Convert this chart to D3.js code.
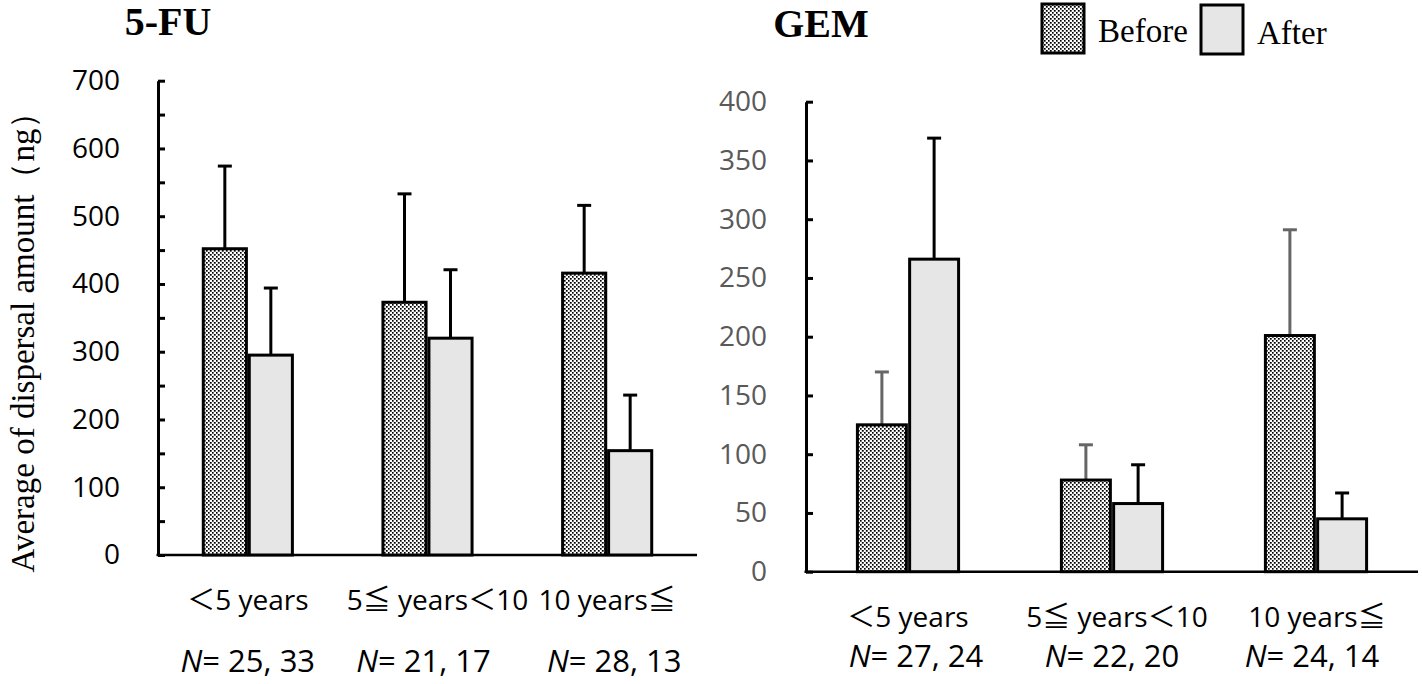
<!DOCTYPE html>
<html>
<head>
<meta charset="utf-8">
<script src="https://cdn.jsdelivr.net/npm/d3@7"></script>
<style>
  html, body { margin: 0; padding: 0; background: #fff; }
  svg { display: block; }
</style>
</head>
<body>
<svg id="chart" width="1422" height="684"></svg>
<script>
// ---------------- DATA ----------------
const categories = ["＜5 years", "5≦ years＜10", "10 years≦"];
const seriesNames = ["Before", "After"];

const fuTitle = "5-FU";
const fuBefore = [452, 373, 416];
const fuBeforeErr = [574, 533, 516];   // top of error bar
const fuAfter = [295, 320, 154];
const fuAfterErr = [394, 421, 236];
const fuN = ["25, 33", "21, 17", "28, 13"];
const fuTicks = [0, 50, 100, 150, 200, 250, 300, 350, 400, 450, 500, 550, 600, 650, 700];

const gemTitle = "GEM";
const gemBefore = [125, 78, 201];
const gemBeforeErr = [170, 108, 291];
const gemAfter = [266, 58, 45];
const gemAfterErr = [369, 91, 67];
const gemN = ["27, 24", "22, 20", "24, 14"];
const gemTicks = [0, 50, 100, 150, 200, 250, 300, 350, 400];

const yLabel = "Average of dispersal amount（ng）";

// ---------------- DRAW ----------------
const svg = d3.select("#chart");
const defs = svg.append("defs");
const pat = defs.append("pattern").attr("id", "checker")
  .attr("patternUnits", "userSpaceOnUse").attr("width", 4).attr("height", 4);
pat.append("rect").attr("width", 4).attr("height", 4).attr("fill", "#ffffff");
pat.append("rect").attr("x", 0).attr("y", 0).attr("width", 1.7).attr("height", 1.7).attr("fill", "#000");
pat.append("rect").attr("x", 2).attr("y", 2).attr("width", 1.7).attr("height", 1.7).attr("fill", "#000");
pat.append("rect").attr("x", 1.7).attr("y", 0).attr("width", 0.3).attr("height", 4).attr("fill", "#999");

const sansFont = "'Open Sans', 'Noto Sans CJK JP', sans-serif";
const serifFont = "'Liberation Serif', 'DejaVu Serif', serif";

function panel(cfg) {
  const g = svg.append("g");
  const y = d3.scaleLinear().domain(cfg.domain).range(cfg.yRange);
  const x = d3.scaleBand().domain(categories).range(cfg.xRange);
  const bw = x.bandwidth() * 0.24;
  const gap = x.bandwidth() * 0.016;
  const sub = d3.scaleOrdinal().domain(seriesNames).range([-(bw + gap / 2), gap / 2]);

  // y axis
  const axis = d3.axisLeft(y).tickValues(cfg.ticks).tickSize(-7).tickSizeOuter(0)
    .tickPadding(cfg.tickPadding)
    .tickFormat(d => (d % cfg.labelEvery === 0 ? d : ""));
  const ag = g.append("g").attr("transform", `translate(${cfg.xRange[0]},0)`).call(axis);
  ag.select(".domain").attr("stroke", "#000").attr("stroke-width", 3);
  ag.selectAll(".tick line").attr("stroke", "#000").attr("stroke-width", 3);
  ag.selectAll(".tick text").attr("font-family", sansFont).attr("font-size", cfg.tickFont)
    .attr("fill", cfg.tickColor);

  // x axis baseline
  g.append("line").attr("x1", cfg.xRange[0] - 1.5).attr("x2", cfg.xRange[1])
    .attr("y1", y(0)).attr("y2", y(0)).attr("stroke", "#000").attr("stroke-width", 2.5);

  const series = [
    { name: "Before", vals: cfg.before, err: cfg.beforeErr, fill: "url(#checker)", errColor: cfg.beforeErrColor },
    { name: "After", vals: cfg.after, err: cfg.afterErr, fill: "#e6e6e6", errColor: cfg.afterErrColor }
  ];

  series.forEach(s => {
    const cx = (c) => x(c) + x.bandwidth() / 2 + sub(s.name);
    // error bars
    g.selectAll(null).data(categories).enter().append("line")
      .attr("x1", (c) => cx(c) + bw / 2).attr("x2", (c) => cx(c) + bw / 2)
      .attr("y1", (c, i) => y(s.vals[i])).attr("y2", (c, i) => y(s.err[i]))
      .attr("stroke", s.errColor).attr("stroke-width", 3);
    g.selectAll(null).data(categories).enter().append("line")
      .attr("x1", (c) => cx(c) + bw / 2 - 7).attr("x2", (c) => cx(c) + bw / 2 + 7)
      .attr("y1", (c, i) => y(s.err[i])).attr("y2", (c, i) => y(s.err[i]))
      .attr("stroke", s.errColor).attr("stroke-width", 3);
    // bars
    g.selectAll(null).data(categories).enter().append("rect")
      .attr("x", (c) => cx(c)).attr("width", bw)
      .attr("y", (c, i) => y(s.vals[i])).attr("height", (c, i) => y(0) - y(s.vals[i]))
      .attr("fill", s.fill).attr("stroke", "#000").attr("stroke-width", 3);
  });

  // category labels
  g.selectAll(null).data(categories).enter().append("text")
    .attr("x", (c, i) => x(c) + x.bandwidth() / 2 + cfg.catDx[i])
    .attr("y", cfg.catY).attr("text-anchor", "middle")
    .attr("font-family", sansFont).attr("font-size", cfg.catFont).attr("fill", "#000")
    .text(c => c);

  // N labels
  const nt = g.selectAll(null).data(categories).enter().append("text")
    .attr("x", (c, i) => x(c) + x.bandwidth() / 2 + cfg.nDx[i])
    .attr("y", cfg.nY).attr("text-anchor", "middle")
    .attr("font-family", sansFont).attr("font-size", cfg.nFont).attr("fill", "#000");
  nt.append("tspan").attr("font-style", "italic").text("N");
  nt.append("tspan").text((c, i) => "= " + cfg.n[i]);

  // title
  g.append("text").attr("x", cfg.titleX).attr("y", cfg.titleY).attr("text-anchor", "middle")
    .attr("font-family", serifFont).attr("font-weight", "bold").attr("font-size", 40)
    .text(cfg.title);
}

panel({
  title: fuTitle, titleX: 168, titleY: 35,
  domain: [0, 700], yRange: [555, 80.7], xRange: [158, 697],
  ticks: fuTicks, labelEvery: 100, tickPadding: 38, tickFont: 28, tickColor: "#000",
  before: fuBefore, beforeErr: fuBeforeErr, after: fuAfter, afterErr: fuAfterErr,
  beforeErrColor: "#000", afterErrColor: "#000",
  catY: 610, catDx: [0, 10, 0], catFont: 28,
  n: fuN, nY: 672, nDx: [0, -4, 7], nFont: 31
});

panel({
  title: gemTitle, titleX: 821, titleY: 37,
  domain: [0, 400], yRange: [571.7, 101.7], xRange: [806, 1418],
  ticks: gemTicks, labelEvery: 50, tickPadding: 39, tickFont: 28, tickColor: "#595959",
  before: gemBefore, beforeErr: gemBeforeErr, after: gemAfter, afterErr: gemAfterErr,
  beforeErrColor: "#666", afterErrColor: "#000",
  catY: 627, catDx: [0, 5, 1], catFont: 28,
  n: gemN, nY: 667, nDx: [8, 0, -4], nFont: 31
});

// y label
svg.append("text")
  .attr("transform", "translate(34,334) rotate(-90)")
  .attr("text-anchor", "middle")
  .attr("font-family", serifFont).attr("font-size", 33).attr("fill", "#000")
  .text(yLabel);

// legend
const legend = svg.append("g");
const legendItems = [
  { name: seriesNames[0], fill: "url(#checker)", x: 1042, tx: 1098 },
  { name: seriesNames[1], fill: "#e6e6e6", x: 1201, tx: 1257 }
];
legend.selectAll(null).data(legendItems).enter().append("rect")
  .attr("x", d => d.x).attr("y", (d, i) => 4 + i).attr("width", 42).attr("height", 49)
  .attr("fill", d => d.fill).attr("stroke", "#000").attr("stroke-width", 3);
legend.selectAll(null).data(legendItems).enter().append("text")
  .attr("x", d => d.tx).attr("y", (d, i) => 42 + i * 2)
  .attr("font-family", serifFont).attr("font-size", 33).attr("fill", "#000")
  .text(d => d.name);
</script>
</body>
</html>
